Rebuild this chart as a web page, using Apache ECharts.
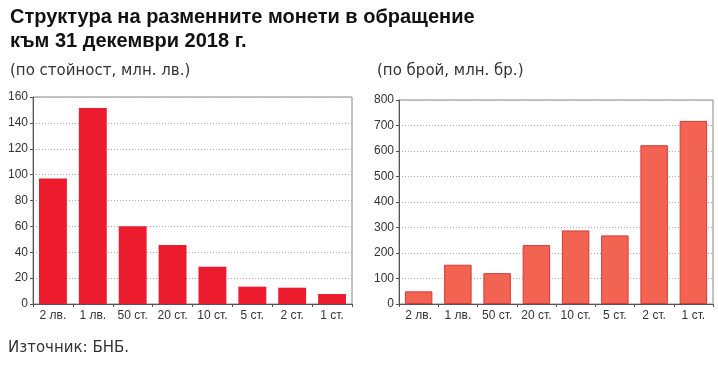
<!DOCTYPE html>
<html>
<head>
<meta charset="utf-8">
<script src="https://cdn.jsdelivr.net/npm/echarts@6/dist/echarts.min.js"></script>
<style>
  html, body { margin: 0; padding: 0; background: #fff; }
  #chart { width: 718px; height: 376px; }
</style>
</head>
<body>
<div id="chart"></div>
<script>
const categories = ['2 лв.', '1 лв.', '50 ст.', '20 ст.', '10 ст.', '5 ст.', '2 ст.', '1 ст.']
const valueSeries = [97.1, 151.5, 60.1, 45.7, 28.8, 13.4, 12.6, 7.7]
const countSeries = [49.6, 154, 121, 231, 288.5, 269, 622.7, 718]
const valueTicks = { min: 0, max: 160, interval: 20 }
const countTicks = { min: 0, max: 800, interval: 100 }

const font = 'Liberation Sans, Arial, sans-serif'
const wideFont = 'DejaVu Sans, sans-serif'
const labelColor = '#333'

function xAxis(gridIndex) {
  return {
    type: 'category', gridIndex: gridIndex, data: categories,
    axisLine: { lineStyle: { color: '#555' } },
    axisTick: { show: true, length: 3, lineStyle: { color: '#555' } },
    axisLabel: { color: labelColor, fontFamily: 'Liberation Sans Narrow, Liberation Sans, sans-serif', fontSize: 12, margin: 6 }
  }
}

function yAxis(gridIndex, ticks) {
  return {
    type: 'value', gridIndex: gridIndex, min: ticks.min, max: ticks.max, interval: ticks.interval,
    axisLine: { show: true, lineStyle: { color: '#555' } },
    axisTick: { show: true, length: 3, lineStyle: { color: '#555' } },
    axisLabel: { color: labelColor, fontFamily: font, fontSize: 12, margin: 5 },
    splitLine: { lineStyle: { color: '#aaa', type: [1, 2], width: 1 } }
  }
}

const chart = echarts.init(document.getElementById('chart'))
chart.setOption({
  animation: false,
  title: [
    { text: 'Структура на разменните монети в обращение\nкъм 31 декември 2018 г.', left: 10, top: 5, padding: 0,
      textStyle: { fontFamily: font, fontSize: 20, fontWeight: 'bold', color: '#111', lineHeight: 24 } },
    { text: '(по стойност, млн. лв.)', left: 10, top: 64, padding: 0,
      textStyle: { fontFamily: wideFont, fontSize: 15, fontWeight: 'normal', color: '#333' } },
    { text: '(по брой, млн. бр.)', left: 377, top: 64, padding: 0,
      textStyle: { fontFamily: wideFont, fontSize: 15, fontWeight: 'normal', color: '#333' } },
    { text: 'Източник: БНБ.', left: 8, top: 341, padding: 0,
      textStyle: { fontFamily: wideFont, fontSize: 15, fontWeight: 'normal', color: '#333' } }
  ],
  grid: [
    { left: 33, width: 319, top: 97, height: 207, show: true, borderColor: '#888', borderWidth: 1, backgroundColor: 'transparent' },
    { left: 399, width: 314, top: 100, height: 204, show: true, borderColor: '#888', borderWidth: 1, backgroundColor: 'transparent' }
  ],
  xAxis: [xAxis(0), xAxis(1)],
  yAxis: [yAxis(0, valueTicks), yAxis(1, countTicks)],
  series: [
    { type: 'bar', xAxisIndex: 0, yAxisIndex: 0, data: valueSeries, barWidth: '70%',
      itemStyle: { color: '#ec1c2e' } },
    { type: 'bar', xAxisIndex: 1, yAxisIndex: 1, data: countSeries, barWidth: '70%',
      itemStyle: { color: '#f26451', borderColor: '#d8393a', borderWidth: 1 } }
  ]
})
</script>
</body>
</html>
